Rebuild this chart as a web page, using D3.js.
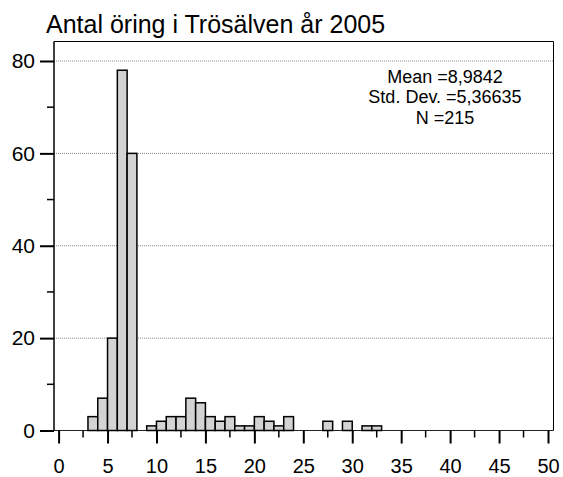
<!DOCTYPE html>
<html>
<head>
<meta charset="utf-8">
<script src="https://cdn.jsdelivr.net/npm/d3@7"></script>
<style>
  html, body { margin: 0; padding: 0; background: #fff; }
  svg { display: block; font-family: "Liberation Sans", Arial, sans-serif; }
</style>
</head>
<body>
<svg id="chart" width="563" height="477"></svg>
<script>
// Data: histogram bins (lower edge, width 1) and counts
const binStarts = [3, 4, 5, 6, 7, 9, 10, 11, 12, 13, 14, 15, 16, 17, 18, 19, 20, 21, 22, 23, 27, 29, 31, 32];
const counts    = [3, 7, 20, 78, 60, 1, 2, 3, 3, 7, 6, 3, 2, 3, 1, 1, 3, 2, 1, 3, 2, 2, 1, 1];
const xTicks = [0, 5, 10, 15, 20, 25, 30, 35, 40, 45, 50];
const xMinorTicks = [2.5, 7.5, 12.5, 17.5, 22.5, 27.5, 32.5, 37.5, 42.5, 47.5];
const yTicks = [0, 20, 40, 60, 80];
const yMinorTicks = [10, 30, 50, 70];
const title = "Antal öring i Trösälven år 2005";
const statsLines = ["Mean =8,9842", "Std. Dev. =5,36635", "N =215"];

const svg = d3.select("#chart");
const frame = { left: 54, right: 553.5, top: 41.5, bottom: 430.5 };

const x = d3.scaleLinear().domain([0, 50]).range([58.6, 548]);
const y = d3.scaleLinear().domain([0, 80]).range([430.5, 61]);

// Title
svg.append("text")
  .attr("x", 46).attr("y", 33)
  .attr("font-size", 25)
  .attr("fill", "#000")
  .text(title);

// Gridlines (dotted)
svg.append("g").selectAll("line")
  .data(yTicks.filter(d => d > 0))
  .join("line")
  .attr("x1", frame.left).attr("x2", frame.right)
  .attr("y1", d => y(d)).attr("y2", d => y(d))
  .attr("stroke", "#888").attr("stroke-width", 1)
  .attr("stroke-dasharray", "1,1");

// Frame top & right
svg.append("path")
  .attr("d", `M${frame.left},${frame.top}H${frame.right}V${frame.bottom}`)
  .attr("fill", "none").attr("stroke", "#000").attr("stroke-width", 1);

// Baseline
svg.append("line")
  .attr("x1", frame.left).attr("x2", frame.right)
  .attr("y1", y(0)).attr("y2", y(0))
  .attr("stroke", "#222").attr("stroke-width", 1);

// Bars
svg.append("g").selectAll("rect")
  .data(binStarts.map((s, i) => ({ s, c: counts[i] })))
  .join("rect")
  .attr("x", d => x(d.s))
  .attr("width", d => x(d.s + 1) - x(d.s))
  .attr("y", d => y(d.c))
  .attr("height", d => y(0) - y(d.c))
  .attr("fill", "#d3d3d3")
  .attr("stroke", "#000")
  .attr("stroke-width", 1.5);

// Left axis
const yAxis = d3.axisLeft(y).tickValues(yTicks).tickSize(14).tickPadding(5).tickFormat(d3.format("d"));
const gy = svg.append("g").attr("transform", `translate(${frame.left},0)`).call(yAxis);
gy.select(".domain").attr("d", `M0,${frame.top}V${frame.bottom}`).attr("stroke", "#000").attr("stroke-width", 1.5);
gy.selectAll(".tick line").attr("stroke-width", 2);
gy.selectAll("text").attr("font-size", 21).attr("font-family", "Liberation Sans, Arial, sans-serif").attr("fill", "#000");
svg.append("g").selectAll("line")
  .data(yMinorTicks).join("line")
  .attr("x1", frame.left - 7).attr("x2", frame.left)
  .attr("y1", d => y(d)).attr("y2", d => y(d))
  .attr("stroke", "#000").attr("stroke-width", 1.5);

// Bottom axis
const xAxis = d3.axisBottom(x).tickValues(xTicks).tickSize(13).tickPadding(15).tickFormat(d3.format("d"));
const gx = svg.append("g").attr("transform", `translate(0,${y(0)})`).call(xAxis);
gx.select(".domain").remove();
gx.selectAll(".tick line").attr("stroke-width", 2);
gx.selectAll("text").attr("font-size", 20).attr("font-family", "Liberation Sans, Arial, sans-serif").attr("fill", "#000");
svg.append("g").selectAll("line")
  .data(xMinorTicks).join("line")
  .attr("x1", d => x(d)).attr("x2", d => x(d))
  .attr("y1", y(0)).attr("y2", y(0) + 7)
  .attr("stroke", "#000").attr("stroke-width", 1.5);

// Stats text
svg.append("g").selectAll("text")
  .data(statsLines).join("text")
  .attr("x", 445)
  .attr("y", (d, i) => 82.5 + i * 20.8)
  .attr("text-anchor", "middle")
  .attr("font-size", 18)
  .attr("fill", "#000")
  .text(d => d);
</script>
</body>
</html>
